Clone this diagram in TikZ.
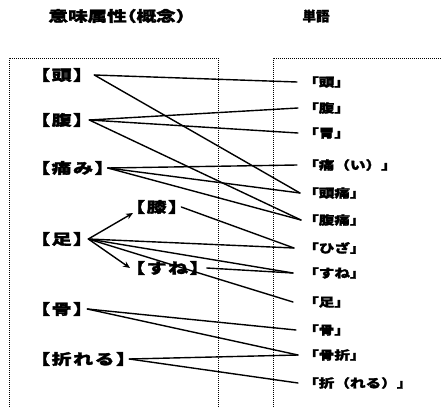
\documentclass[tikz,border=0pt]{standalone}
\usepackage{fontspec}
\usetikzlibrary{arrows.meta}
\newfontfamily\jpH{Noto Sans CJK JP}[FakeStretch=1.35,FakeBold=2,CharacterWidth=AlternateHalf]
\newfontfamily\jpL{Noto Sans CJK JP}[FakeStretch=1.38,FakeBold=2,CharacterWidth=AlternateHalf,LetterSpace=10]
\newfontfamily\jpR{Noto Sans CJK JP}[FakeStretch=1.3,FakeBold=2]
\newfontfamily\jpT{Noto Sans CJK JP}[FakeBold=2]
\begin{document}
\begin{tikzpicture}[x=1pt,y=-1pt,
  head/.style={inner sep=0pt, font=\jpH\bfseries\fontsize{14.5}{14.5}\selectfont},
  lab/.style={inner sep=0pt, anchor=west, font=\jpL\bfseries\fontsize{14.5}{14.5}\selectfont},
  wrd/.style={inner sep=0pt, anchor=west, font=\jpR\bfseries\fontsize{12}{12}\selectfont},
  link/.style={line width=1.4pt, line cap=round},
  arr/.style={line width=1.4pt, -{Stealth[length=7pt,width=6pt]}},
  frame/.style={densely dotted, line width=1pt}]
\useasboundingbox (0,0) rectangle (442,407);
% headers
\node[head] (h1) at (117,16) {意味属性（概念）};
\node[head, font=\jpT\bfseries\fontsize{13.5}{13.5}\selectfont] (h2) at (316,16) {単語};
% frames
\draw[frame] (9,407) -- (9,58) -- (218,58) -- (218,407);
\draw[frame] (273,407) -- (273,58) -- (442,58);
% left labels
\node[lab] (L1) at (40,75) {【頭】};
\node[lab] (L2) at (40,120) {【腹】};
\node[lab] (L3) at (40,168) {【痛み】};
\node[lab] (Lhz) at (135,207) {【膝】};
\node[lab] (L4) at (40,239) {【足】};
\node[lab] (Lsn) at (135,268) {【すね】};
\node[lab] (L5) at (40,309) {【骨】};
\node[lab] (L6) at (40,359) {【折れる】};
% right words
\node[wrd] (R1) at (303,82) {「頭」};
\node[wrd] (R2) at (303,108) {「腹」};
\node[wrd] (R3) at (303,133) {「胃」};
\node[wrd] (R4) at (303,165) {「痛（い）」};
\node[wrd] (R5) at (303,193) {「頭痛」};
\node[wrd] (R6) at (303,220) {「腹痛」};
\node[wrd] (R7) at (303,248) {「ひざ」};
\node[wrd] (R8) at (303,273) {「すね」};
\node[wrd] (R9) at (303,302) {「足」};
\node[wrd] (R10) at (303,330) {「骨」};
\node[wrd] (R11) at (303,355) {「骨折」};
\node[wrd] (R12) at (303,383) {「折（れる）」};
% connectors
\draw[link] ([xshift=11pt]L1.east) -- ([xshift=-6pt]R1.west);
\draw[link] ([xshift=11pt]L1.east) -- ([xshift=-3pt]R5.west);
\draw[link] ([xshift=6pt]L2.east) -- ([xshift=-5pt]R2.west);
\draw[link] ([xshift=6pt]L2.east) -- ([xshift=-5pt]R3.west);
\draw[link] ([xshift=6pt]L2.east) -- ([xshift=-2pt]R6.west);
\draw[link] ([xshift=3pt]L3.east) -- ([xshift=-6pt]R4.west);
\draw[link] ([xshift=3pt]L3.east) -- ([xshift=-3pt]R5.west);
\draw[link] ([xshift=3pt]L3.east) -- ([xshift=-2pt]R6.west);
\draw[link] ([xshift=3pt]Lhz.east) -- ([xshift=-9pt]R7.west);
\draw[link] ([xshift=5pt]L4.east) -- ([xshift=-9pt]R7.west);
\draw[link] ([xshift=5pt]L4.east) -- ([xshift=-10pt]R8.west);
\draw[link] ([xshift=5pt]L4.east) -- ([xshift=-10pt]R9.west);
\draw[link] ([xshift=7pt]Lsn.east) -- ([xshift=-10pt]R8.west);
\draw[link] ([xshift=4pt]L5.east) -- ([xshift=-7pt]R10.west);
\draw[link] ([xshift=4pt]L5.east) -- ([xshift=-5pt]R11.west);
\draw[link] ([xshift=3pt]L6.east) -- ([xshift=-5pt]R11.west);
\draw[link] ([xshift=3pt]L6.east) -- ([xshift=-5pt]R12.west);
\draw[arr] ([xshift=5pt]L4.east) -- ([xshift=-2pt,yshift=-6pt]Lhz.west);
\draw[arr] ([xshift=5pt]L4.east) -- ([xshift=-5pt]Lsn.west);
\end{tikzpicture}
\end{document}
